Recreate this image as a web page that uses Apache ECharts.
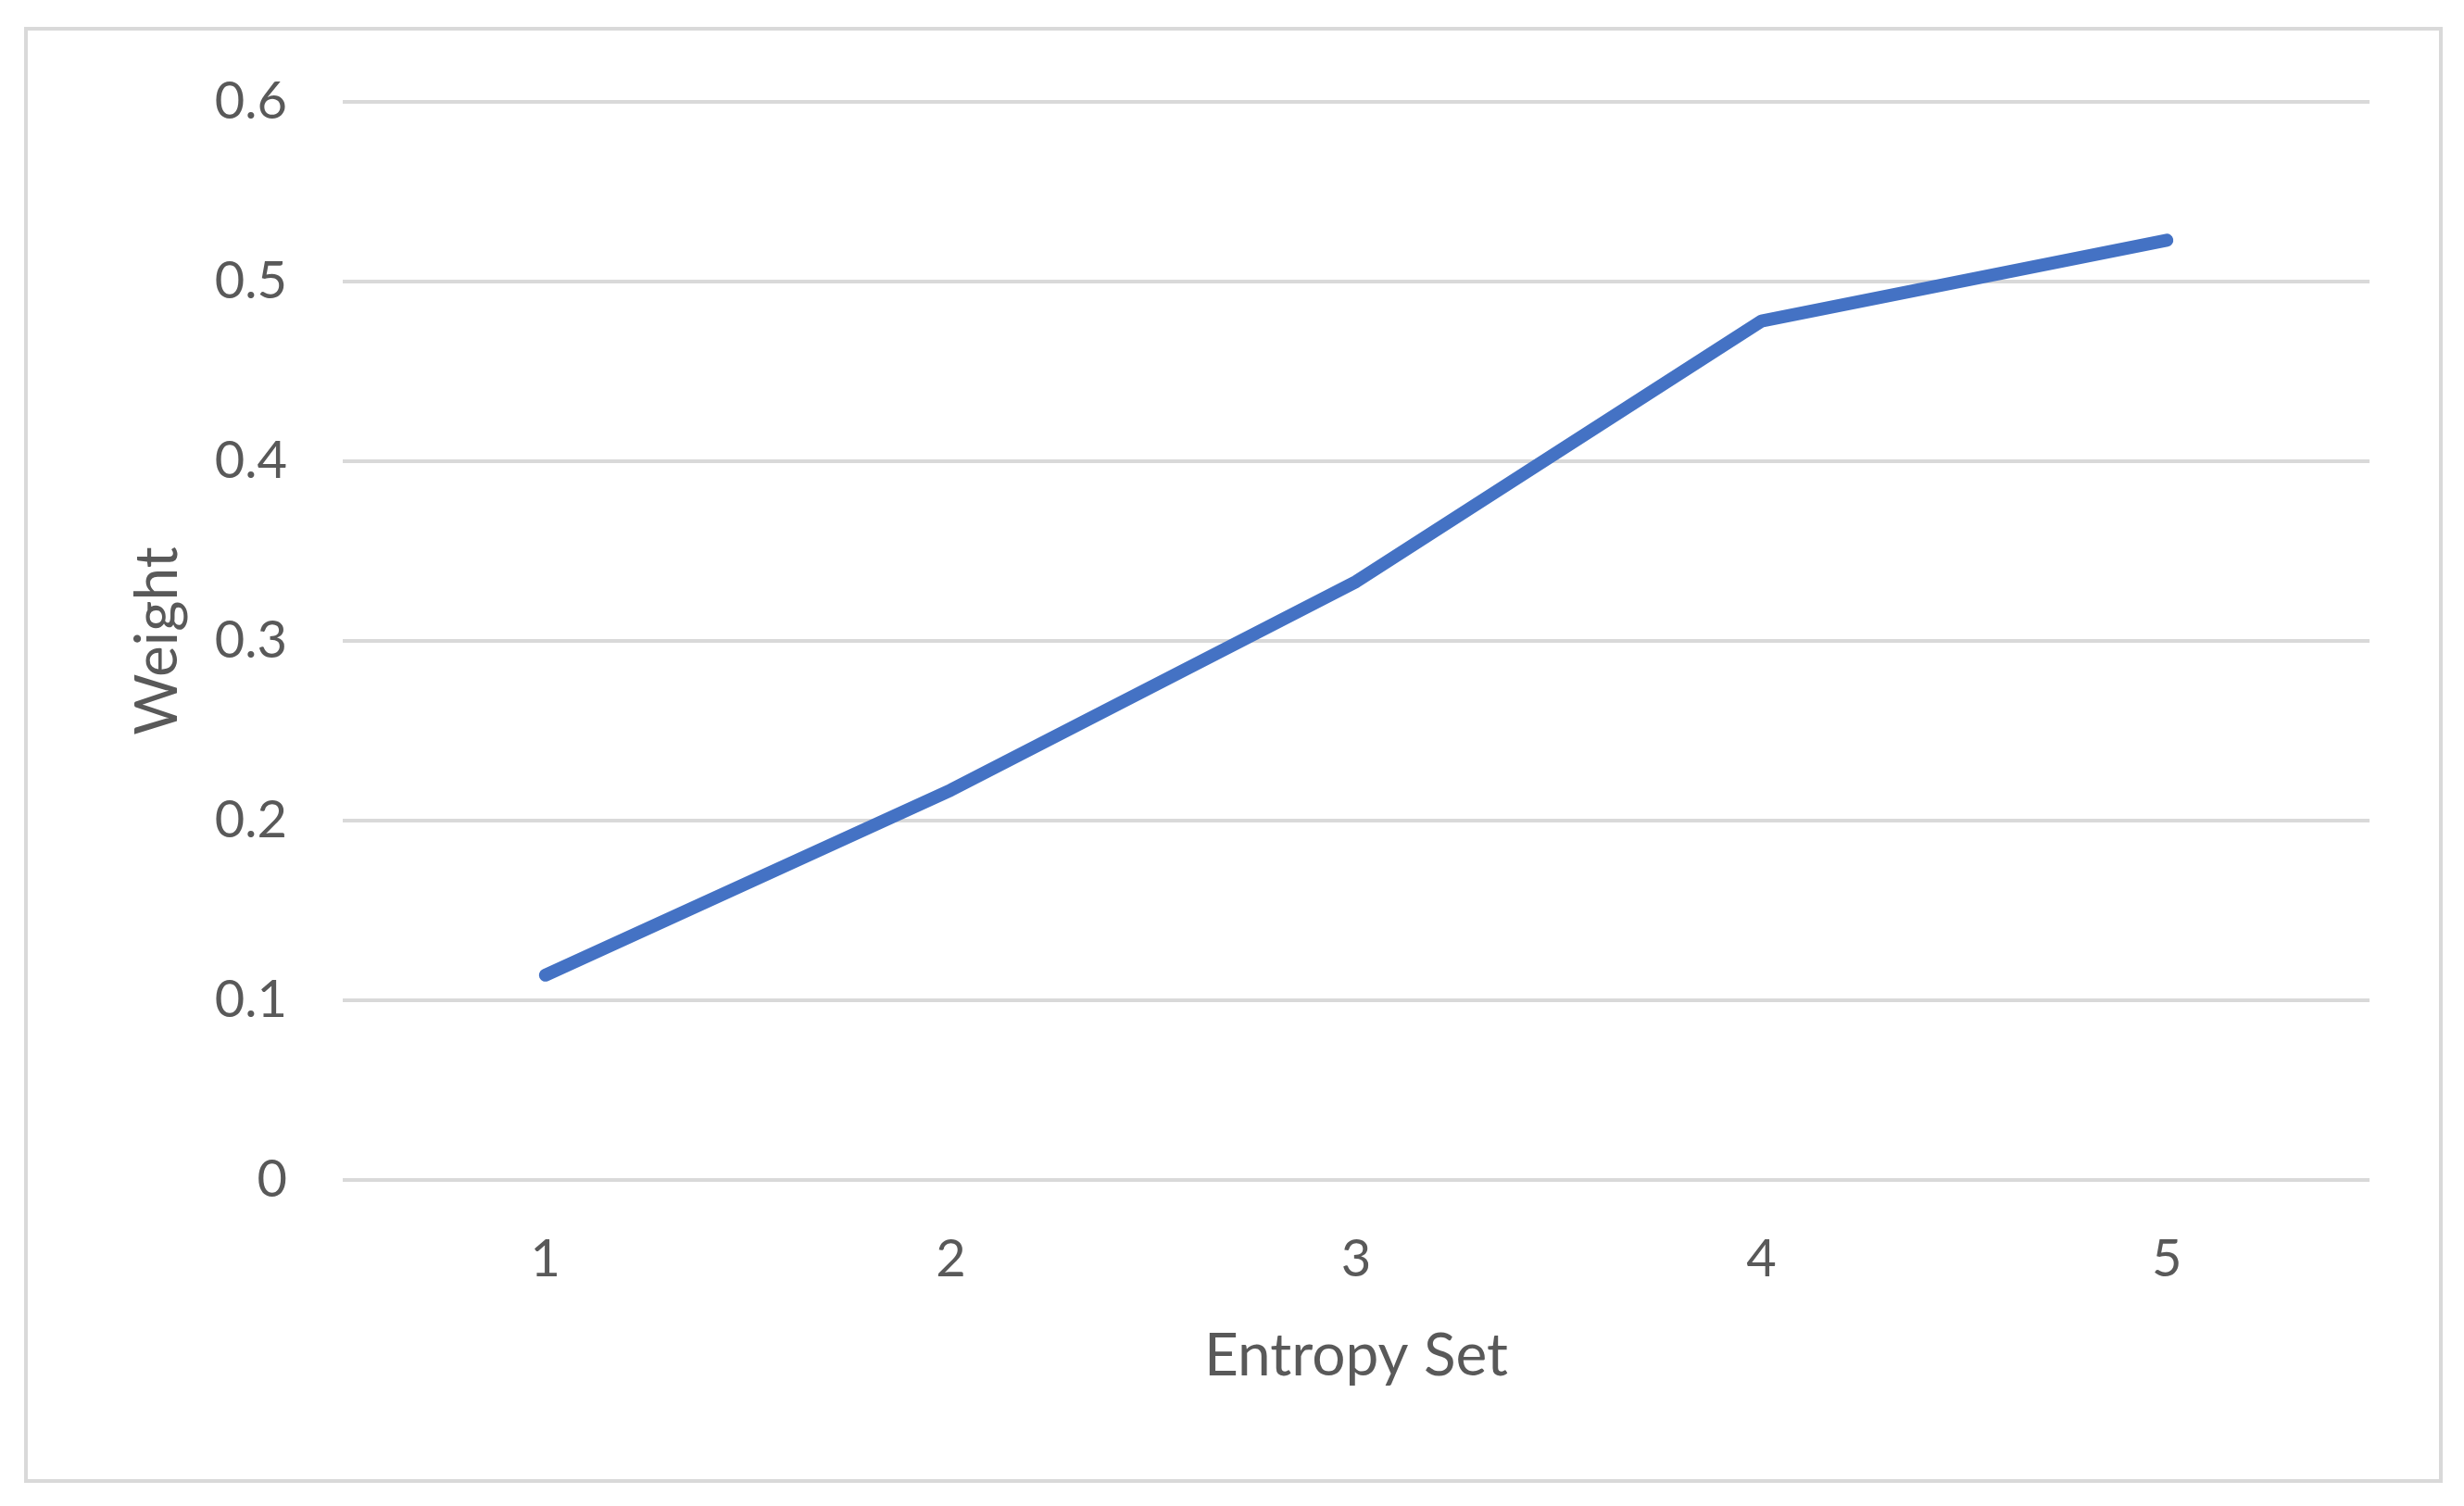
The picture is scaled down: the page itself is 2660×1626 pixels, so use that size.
<!DOCTYPE html>
<html>
<head>
<meta charset="utf-8">
<script src="https://cdn.jsdelivr.net/npm/echarts@6/dist/echarts.min.js"></script>
<style>
    html, body { margin: 0; padding: 0; background: #fff; }
    #weightTu { width: 2660px; height: 1626px; }
</style>
</head>
<body>
<div id="weightTu"></div>
<script>
// 数据
var entropySet = ['1', '2', '3', '4', '5'];
var weight = [0.114, 0.217, 0.333, 0.478, 0.523];
var yTicks = [0, 0.1, 0.2, 0.3, 0.4, 0.5, 0.6];

var weightTu = echarts.init(document.getElementById('weightTu'));
var textColor = '#595959';
var gridColor = '#d9d9d9';

var option = {
    backgroundColor: '#fff',
    animation: false,
    // 外框
    graphic: [{
        type: 'rect',
        shape: { x: 28, y: 31, width: 2607, height: 1568 },
        style: { fill: 'none', stroke: '#d9d9d9', lineWidth: 4 }
    }],
    grid: {
        left: 370,
        right: 102,
        top: 110,
        bottom: 352
    },
    xAxis: {
        type: 'category',
        boundaryGap: true,
        data: entropySet,
        name: 'Entropy Set',
        nameLocation: 'middle',
        nameGap: 190,
        nameTextStyle: { color: textColor, fontSize: 64, fontFamily: 'Lato', verticalAlign: 'middle' },
        axisLine: { show: false },
        axisTick: { show: false },
        axisLabel: { color: textColor, fontSize: 56, fontFamily: 'Lato', margin: 58 }
    },
    yAxis: {
        type: 'value',
        min: yTicks[0],
        max: yTicks[yTicks.length - 1],
        interval: 0.1,
        name: 'Weight',
        nameLocation: 'middle',
        nameGap: 200,
        nameTextStyle: { color: textColor, fontSize: 64, fontFamily: 'Lato', verticalAlign: 'middle' },
        axisLine: { show: false },
        axisTick: { show: false },
        axisLabel: {
            color: textColor, fontSize: 56, fontFamily: 'Lato', margin: 60,
            formatter: function (v) { return String(Math.round(v * 10) / 10); }
        },
        splitLine: { lineStyle: { color: gridColor, width: 4 } }
    },
    series: [{
        name: 'Weight',
        type: 'line',
        data: weight,
        symbol: 'none',
        lineStyle: { color: '#4472c4', width: 14, cap: 'round', join: 'round' }
    }]
};
weightTu.setOption(option);
</script>
</body>
</html>
